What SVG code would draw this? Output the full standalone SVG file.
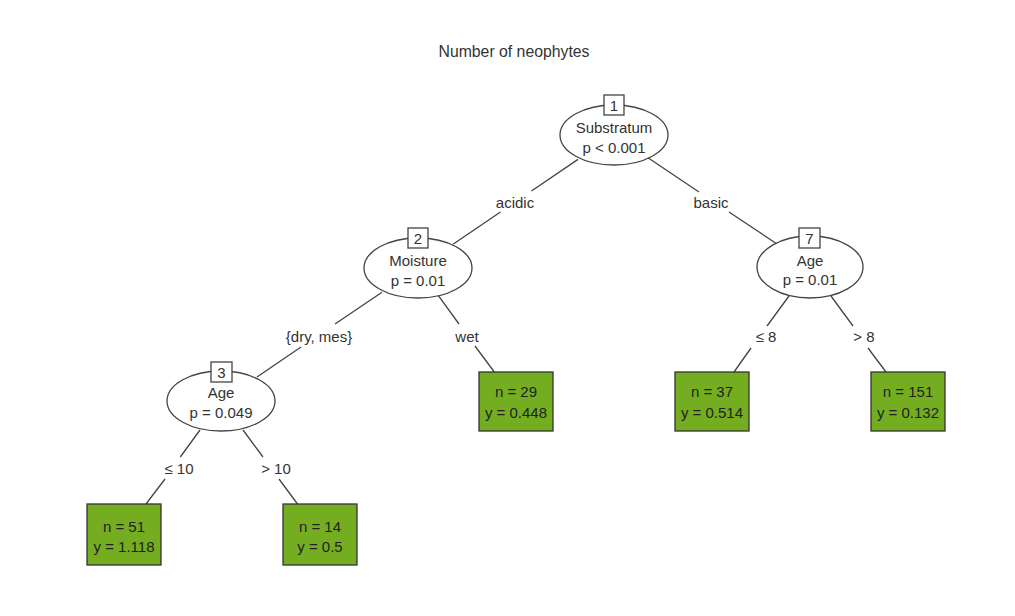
<svg xmlns="http://www.w3.org/2000/svg" width="1015" height="616" viewBox="0 0 1015 616">
<style>
text{font-family:"Liberation Sans",Arial,sans-serif;font-size:15px;fill:#333;text-anchor:middle}
.title{font-size:15.8px}
.inner ellipse{fill:#fff;stroke:#444;stroke-width:1.3}
.inner rect{fill:#fff;stroke:#444;stroke-width:1.3}
.leaf rect{fill:#74ad1f;stroke:#333;stroke-width:1.3}
.leaf text{fill:#222}
#edges path{fill:none;stroke:#444;stroke-width:1.3}
</style>
<rect width="1015" height="616" fill="#fff"/>
<text class="title" x="514" y="57">Number of neophytes</text>
<g id="edges">
<path d="M578,159.4 L531.5,191 M500.5,212 L453,244.3"/>
<path d="M648,157.7 L699,192 M729,212 L777,244"/>
<path d="M382,292.3 L335,324 M301,347 L257,377"/>
<path d="M438,295.2 L459,324 M475,346 L494.3,372"/>
<path d="M200,430 L180.3,457 M165,479 L146,504"/>
<path d="M243,430 L263,457 M279,479 L297.5,504"/>
<path d="M789,296 L767,326 M751,348 L734,372"/>
<path d="M831,296 L853,326 M868,348 L886,372"/>
<text x="515" y="208">acidic</text>
<text x="711" y="208">basic</text>
<text x="319" y="342">{dry, mes}</text>
<text x="467" y="342">wet</text>
<text x="179" y="474">≤ 10</text>
<text x="276" y="474">&gt; 10</text>
<text x="766" y="342">≤ 8</text>
<text x="864" y="342">&gt; 8</text>
</g>
<g id="node1" class="inner">
<ellipse cx="614" cy="135" rx="54" ry="30"/>
<rect x="604" y="95" width="20" height="20"/>
<text x="614" y="111">1</text>
<text x="614" y="133">Substratum</text>
<text x="614" y="153">p &lt; 0.001</text>
</g>
<g id="node2" class="inner">
<ellipse cx="418" cy="268" rx="54" ry="30"/>
<rect x="408" y="228" width="20" height="20"/>
<text x="418" y="244">2</text>
<text x="418" y="266">Moisture</text>
<text x="418" y="286">p = 0.01</text>
</g>
<g id="node3" class="inner">
<ellipse cx="221" cy="401" rx="54" ry="30"/>
<rect x="211" y="362" width="21" height="20"/>
<text x="221.5" y="378">3</text>
<text x="221" y="398">Age</text>
<text x="221" y="418">p = 0.049</text>
</g>
<g id="node7" class="inner">
<ellipse cx="810" cy="267" rx="53" ry="31"/>
<rect x="799" y="228" width="21" height="20"/>
<text x="809.5" y="244">7</text>
<text x="810" y="266">Age</text>
<text x="810" y="285">p = 0.01</text>
</g>
<g id="leaf4" class="leaf">
<rect x="87" y="504" width="74" height="61"/>
<text x="124" y="532">n = 51</text>
<text x="124" y="552">y = 1.118</text>
</g>
<g id="leaf5" class="leaf">
<rect x="283" y="504" width="74" height="61"/>
<text x="320" y="532">n = 14</text>
<text x="320" y="552">y = 0.5</text>
</g>
<g id="leaf6" class="leaf">
<rect x="479" y="372" width="74" height="59"/>
<text x="516" y="397">n = 29</text>
<text x="516" y="418">y = 0.448</text>
</g>
<g id="leaf8" class="leaf">
<rect x="675" y="372" width="74" height="59"/>
<text x="712" y="397">n = 37</text>
<text x="712" y="418">y = 0.514</text>
</g>
<g id="leaf9" class="leaf">
<rect x="871" y="372" width="74" height="59"/>
<text x="908" y="397">n = 151</text>
<text x="908" y="418">y = 0.132</text>
</g>
</svg>
